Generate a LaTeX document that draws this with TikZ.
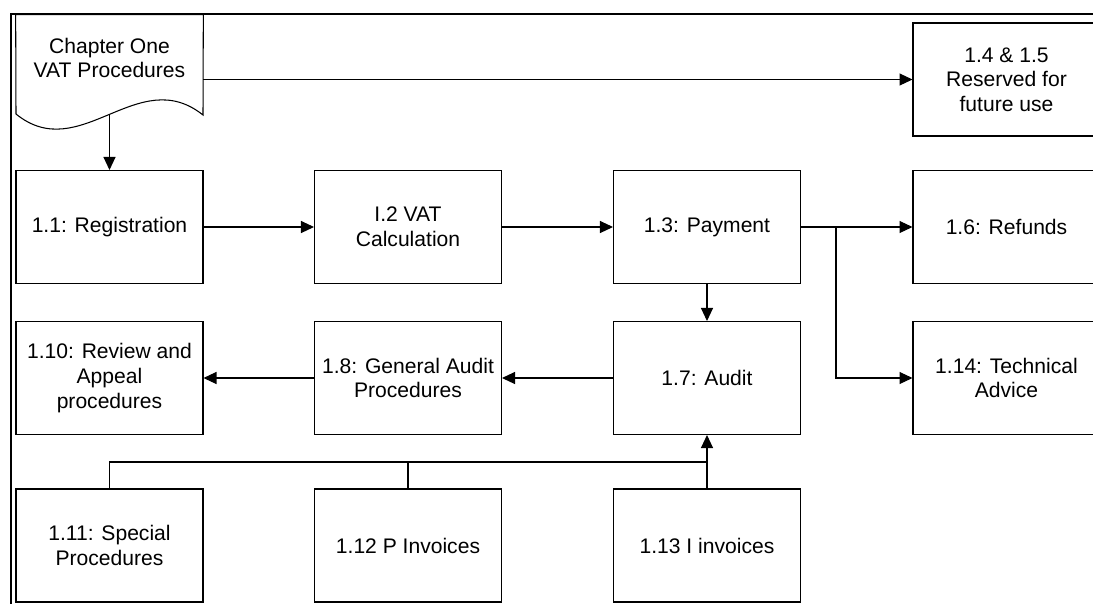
\documentclass[tikz,border=0pt]{standalone}
\usepackage{fontspec}
\setmainfont{Liberation Sans}
\usetikzlibrary{arrows.meta}
\tikzset{
  procbox/.style={draw, line width=0.6pt, minimum width=3.74cm, minimum height=2.26cm,
    align=center, inner sep=2pt, font=\fontsize{12}{14}\selectfont},
  flowline/.style={line width=0.6pt},
  flowarrow/.style={line width=0.6pt, -{Triangle[length=0.26cm,width=0.24cm]}},
}
\begin{document}
\begin{tikzpicture}[x=0.02cm,y=-0.02cm]
                    \useasboundingbox (0,0) rectangle (1093,603);

                    % Drawing page frame
                    \draw [line width=1.2pt] (1100,14) -- (11,14) -- (11,610);%

                    % Marking chapter heading
                    \node [font=\fontsize{12}{14}\selectfont, align=center, minimum width=3.74cm,
                      minimum height=1.72cm, inner sep=2pt] (doc) at (109.5,58) {Chapter One\\VAT Procedures};%
                    \draw [flowline] (doc.north west) -- (doc.north east) -- (203,115)
                      .. controls (138,63) and (80,166) .. (16,114) -- cycle;%
                    \coordinate (docfoot) at (109.5,114.5);%

                    % Marking boxes of the first row
                    \node [procbox] (r45) at (1006.5,79.5) {1.4 \& 1.5\\Reserved for\\future use};%

                    % Marking boxes of the second row
                    \node [procbox] (r11) at (109.5,227) {1.1: Registration};%
                    \node [procbox] (r12) at (408,227) {I.2 VAT\\Calculation};%
                    \node [procbox] (r13) at (707,227) {1.3: Payment};%
                    \node [procbox] (r16) at (1006.5,227) {1.6: Refunds};%

                    % Marking boxes of the third row
                    \node [procbox] (r110) at (109.5,378) {1.10: Review and\\Appeal\\procedures};%
                    \node [procbox] (r18) at (408,378) {1.8: General Audit\\Procedures};%
                    \node [procbox] (r17) at (707,378) {1.7: Audit};%
                    \node [procbox] (r114) at (1006.5,378) {1.14: Technical\\Advice};%

                    % Marking boxes of the fourth row
                    \node [procbox] (r111) at (109.5,545.5) {1.11: Special\\Procedures};%
                    \node [procbox] (r112) at (408,545.5) {1.12 P Invoices};%
                    \node [procbox] (r113) at (707,545.5) {1.13 I invoices};%

                    % Drawing arrows from the chapter heading
                    \draw [flowarrow] (docfoot) -- (r11.north);%
                    \draw [flowarrow] (doc.east |- r45.west) -- (r45.west);%

                    % Drawing arrows along the second row
                    \draw [flowarrow] (r11) -- (r12);%
                    \draw [flowarrow] (r12) -- (r13);%
                    \draw [flowarrow] (r13) -- (r16);%

                    % Drawing branch to 1.14
                    \coordinate (fork) at (836,227);%
                    \draw [flowarrow] (fork) |- (r114.west);%

                    % Drawing arrows along the third row
                    \draw [flowarrow] (r13) -- (r17);%
                    \draw [flowarrow] (r17) -- (r18);%
                    \draw [flowarrow] (r18) -- (r110);%

                    % Drawing bus from the fourth row
                    \coordinate (bus) at (707,462);%
                    \draw [flowline] (r111.north) |- (bus);%
                    \draw [flowline] (r112.north) -- (r112.north |- bus);%
                    \draw [flowarrow] (r113) -- (r17);%
\end{tikzpicture}
\end{document}
